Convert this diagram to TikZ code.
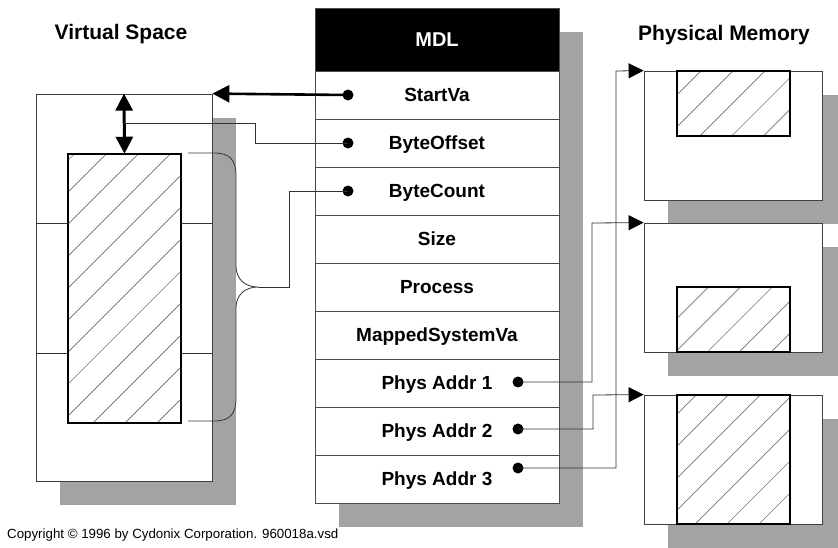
\documentclass[tikz,border=0pt]{standalone}
\usepackage{fontspec}
\setmainfont{Liberation Sans}
\usetikzlibrary{arrows.meta, shadows, patterns.meta}

\begin{document}
\begin{tikzpicture}[x=1pt, y=-1pt,
  page/.style={
    draw=black!75, fill=white, line width=0.8pt, inner sep=0pt,
    drop shadow={shadow xshift=24pt, shadow yshift=-24pt, opacity=1, fill=black!36}
  },
  hatched/.style={
    draw=black, line width=1.6pt, inner sep=0pt,
    pattern={Lines[angle=45, distance=22.6pt, line width=0.5pt]}, pattern color=black!70
  },
  mdlrow/.style={
    draw=black!70, fill=white, line width=0.7pt,
    minimum width=244pt, minimum height=48pt, inner sep=0pt,
    font=\fontsize{19}{21}\selectfont\bfseries,
    text height=13.6pt, text depth=0pt,
    drop shadow={shadow xshift=24pt, shadow yshift=-24pt, opacity=1, fill=black!36}
  },
  title/.style={font=\fontsize{21}{24}\selectfont\bfseries, inner sep=0pt},
  dot/.style={circle, fill=black, inner sep=0pt, minimum size=11pt},
  wire/.style={draw=black!80, line width=0.8pt},
  ptr/.style={wire, -{Triangle[length=15pt, width=15pt, fill=black, color=black]}},
  bigarrow/.style={line width=2.6pt, -{Triangle[length=17pt, width=17pt]}},
  dblarrow/.style={line width=3pt, {Triangle[length=17pt, width=17pt]}-{Triangle[length=17pt, width=17pt]}}
]
  \path[use as bounding box, fill=white] (0,0) rectangle (838,548);

  % titles
  \node[title, anchor=base] (vstitle) at (121,40) {Virtual Space};
  \node[title, anchor=base] (pmtitle) at (724,40.5) {Physical Memory};

  % virtual space
  \node[page, minimum width=176pt, minimum height=387pt] (vs) at (124,287.5) {};
  \node[hatched, minimum width=113pt, minimum height=269pt] (vbuf) at (124.5,288.5) {};
  \foreach \y in {223,353} {
    \draw[wire] (36,\y) -- (68,\y) (181,\y) -- (212,\y);
  }

  % MDL
  \node[mdlrow, fill=black, text=white, minimum height=63pt, text height=14.3pt,
        font=\fontsize{20}{22}\selectfont\bfseries] (hdr) at (437,39.5) {MDL};
  \node[mdlrow] (startva) at (437,95) {StartVa};
  \node[mdlrow] (byteoff) at (437,143) {ByteOffset};
  \node[mdlrow] (bytecnt) at (437,191) {ByteCount};
  \node[mdlrow] (size) at (437,239) {Size};
  \node[mdlrow] (process) at (437,287) {Process};
  \node[mdlrow] (mapped) at (437,335) {MappedSystemVa};
  \node[mdlrow] (pa1) at (437,383) {Phys Addr 1};
  \node[mdlrow] (pa2) at (437,431) {Phys Addr 2};
  \node[mdlrow] (pa3) at (437,479) {Phys Addr 3};

  \node[dot] (dva) at (348,95) {};
  \node[dot] (doff) at (348,143) {};
  \node[dot] (dcnt) at (348,191) {};
  \node[dot] (dp1) at (518,382) {};
  \node[dot] (dp2) at (518,429) {};
  \node[dot] (dp3) at (518,468) {};

  % physical memory
  \node[page, minimum width=178pt, minimum height=129pt] (pm1) at (733,135.5) {};
  \node[hatched, minimum width=113pt, minimum height=65pt] (pg1) at (733.5,103.5) {};
  \node[page, minimum width=178pt, minimum height=129pt] (pm2) at (733,287.5) {};
  \node[hatched, minimum width=113pt, minimum height=65pt] (pg2) at (733.5,319.5) {};
  \node[page, minimum width=178pt, minimum height=129pt] (pm3) at (733,459.5) {};
  \node[hatched, minimum width=113pt, minimum height=129pt] (pg3) at (733.5,459.5) {};

  % connectors
  \coordinate (offmark) at (124,123);
  \coordinate (bracetip) at (258,287);
  \draw[bigarrow] (dva.center) -- (vs.north east);
  \draw[dblarrow] (vs.north) -- (vbuf.north);
  \draw[wire] (doff.center) -| (255,123) -- (offmark);
  \draw[wire] (dcnt.center) -| (289,287) -- (bracetip);
  \draw[wire] (188,153) -- (214,153) .. controls (230,153) and (236,160) .. (236,176)
    -- (236,266) .. controls (236,280) and (246,287) .. (bracetip)
    .. controls (246,287) and (236,294) .. (236,308)
    -- (236,398) .. controls (236,414) and (230,421) .. (214,421) -- (188,421);
  \draw[ptr] (dp1.center) -| (592,223) -- (pm2.north west);
  \draw[ptr] (dp2.center) -| (593,395) -- (pm3.north west);
  \draw[ptr] (dp3.center) -| (616,71) -- (pm1.north west);

  \node[anchor=base west, inner sep=0pt, font=\fontsize{13.3}{15}\selectfont] (copy) at (7,538)
    {Copyright © 1996 by Cydonix Corporation. 960018a.vsd};
\end{tikzpicture}
\end{document}
